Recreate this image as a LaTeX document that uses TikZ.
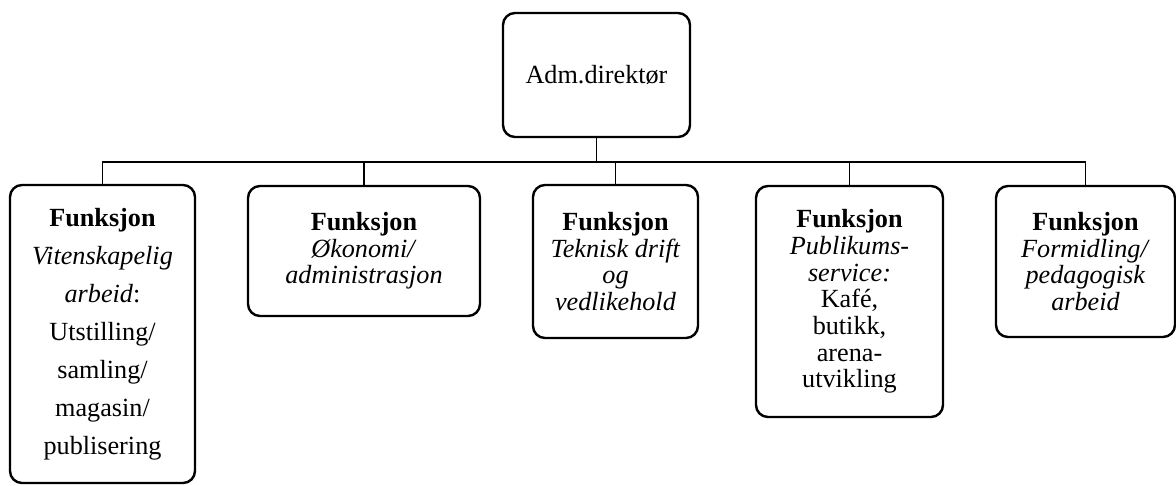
\documentclass[tikz,border=0pt]{standalone}
\usepackage{fontspec}
\setmainfont{Liberation Serif}
\usetikzlibrary{positioning}
\tikzset{every picture/.style={line width=0.9pt}}
\newcommand{\pxu}{0.458pt}
\tikzset{
  unit/.style={draw, line width=1.1pt, rounded corners=5.5pt, align=center,
    inner sep=2pt, font=\fontsize{12}{12.2}\selectfont},
}

\begin{document}
\begin{tikzpicture}[x=0.458pt, y=-0.458pt]
    \useasboundingbox (0,0) rectangle (1176,485);
    % Top box
    \node[unit, minimum width=187*\pxu, minimum height=124*\pxu] (dir) at (596.5,75) {Adm.direktør};
    % Functions
    \node[unit, minimum width=185*\pxu, minimum height=298*\pxu, font=\fontsize{12}{17.4}\selectfont]
        (vit) at (102.5,334) {\textbf{Funksjon}\\ \textit{Vitenskapelig}\\ \textit{arbeid}:\\ Utstilling/\\ samling/\\ magasin/\\ publisering};
    \node[unit, minimum width=232*\pxu, minimum height=130*\pxu]
        (oko) at (364,251) {\textbf{Funksjon}\\ \textit{Økonomi/}\\ \textit{administrasjon}};
    \node[unit, minimum width=165*\pxu, minimum height=153*\pxu]
        (tek) at (615.5,261.5) {\textbf{Funksjon}\\ \textit{Teknisk drift}\\ \textit{og}\\ \textit{vedlikehold}};
    \node[unit, minimum width=187*\pxu, minimum height=231*\pxu]
        (pub) at (849.5,301.5) {\textbf{Funksjon}\\ \textit{Publikums-}\\ \textit{service:}\\ Kafé,\\ butikk,\\ arena-\\ utvikling};
    \node[unit, minimum width=179*\pxu, minimum height=151*\pxu]
        (form) at (1085.5,261.5) {\textbf{Funksjon}\\ \textit{Formidling/}\\ \textit{pedagogisk}\\ \textit{arbeid}};
    % Lines
    \coordinate (bar) at (0,162);
    \draw (dir.south) -- (dir.south |- bar);
    \draw (vit.north) -- (vit.north |- bar) -- (form.north |- bar) -- (form.north);
    \draw (oko.north) -- (oko.north |- bar);
    \draw (tek.north) -- (tek.north |- bar);
    \draw (pub.north) -- (pub.north |- bar);
\end{tikzpicture}
\end{document}
